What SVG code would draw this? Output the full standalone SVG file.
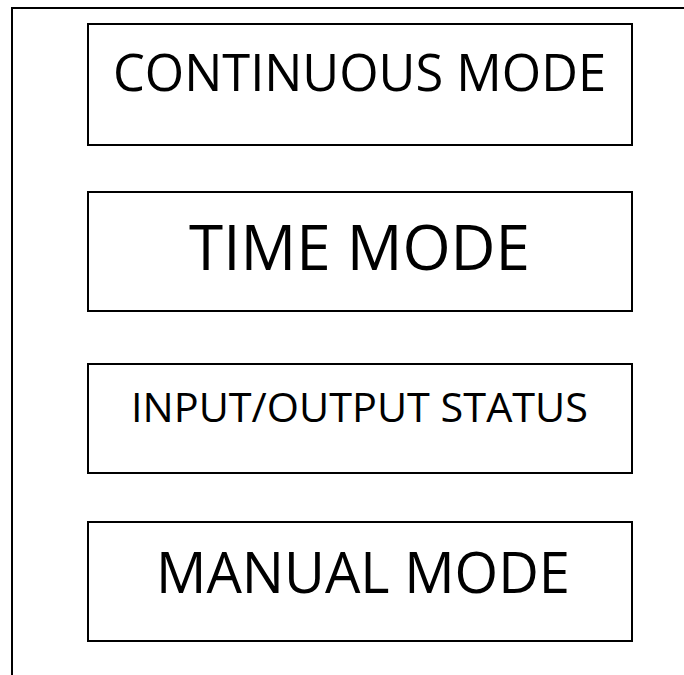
<svg xmlns="http://www.w3.org/2000/svg" width="684" height="675" viewBox="0 0 684 675">
<style>
.box{fill:#fff;stroke:#000;stroke-width:2}
.frame{fill:none;stroke:#000;stroke-width:2}
.t{font-family:"Open Sans","Noto Sans",sans-serif;fill:#000;text-anchor:middle}
</style>
<rect width="684" height="675" fill="#fff"/>
<g id="connectors">
<path class="frame" d="M12 675 V8 H684"/>
</g>
<g id="continuous">
<rect class="box" x="88" y="24" width="544" height="121"/>
<text class="t" x="359.5" y="91" font-size="51" textLength="493" lengthAdjust="spacingAndGlyphs">CONTINUOUS MODE</text>
</g>
<g id="time">
<rect class="box" x="88" y="192" width="544" height="119"/>
<text class="t" x="359.5" y="270" font-size="63" textLength="341" lengthAdjust="spacingAndGlyphs">TIME MODE</text>
</g>
<g id="io">
<rect class="box" x="88" y="364" width="544" height="109"/>
<text class="t" x="359.5" y="422" font-size="41" textLength="457" lengthAdjust="spacingAndGlyphs">INPUT/OUTPUT STATUS</text>
</g>
<g id="manual">
<rect class="box" x="88" y="522" width="544" height="119"/>
<text class="t" x="363" y="593" font-size="56" textLength="414" lengthAdjust="spacingAndGlyphs">MANUAL MODE</text>
</g>
</svg>
